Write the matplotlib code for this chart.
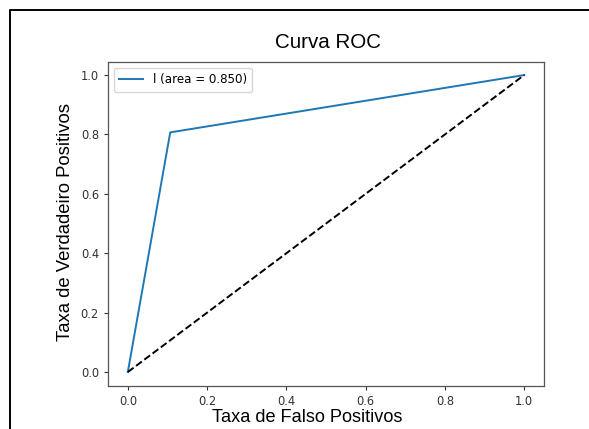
import numpy as np
import matplotlib.pyplot as plt
from matplotlib.lines import Line2D

# ROC curve points
fpr = [0.0, 0.107, 1.0]
tpr = [0.0, 0.807, 1.0]
area = 0.850
chance = [0.0, 1.0]
ticks = [0.0, 0.2, 0.4, 0.6, 0.8, 1.0]

W, H = 589, 429
fig = plt.figure(figsize=(W / 100, H / 100), dpi=100)
ax = fig.add_axes([108 / W, 1 - 386 / H, 436 / W, 324 / H])

ax.plot(fpr, tpr, color='#1f77b4', lw=1.4, label='l (area = %0.3f)' % area)
ax.plot(chance, chance, 'k--', lw=1.4)
ax.set_xlim(-0.05, 1.05)
ax.set_ylim(-0.047, 1.044)
ax.set_xticks(ticks)
ax.set_yticks(ticks)
ax.tick_params(labelsize=8.3, colors='#333333', length=3, width=0.8)
for s in ax.spines.values():
    s.set_color('#555555')
    s.set_linewidth(0.9)
ax.legend(loc='upper left', fontsize=8.6, handlelength=2.0, borderpad=0.45)

# labels sit where the screenshot had them
lab = dict(family='Liberation Sans', color='black')
fig.text(328 / W, 1 - 42 / H, 'Curva ROC', ha='center', va='center', fontsize=14.8, **lab)
fig.text(307 / W, 1 - 417 / H, 'Taxa de Falso Positivos', ha='center', va='center', fontsize=13.1, **lab)
fig.text(66 / W, 1 - 222 / H, 'Taxa de Verdadeiro Positivos', ha='center', va='center',
         rotation=90, fontsize=13.3, **lab)

# outer frame of the screenshot
fig.add_artist(Line2D([10 / W, 10 / W, 1.0], [0.0, 1 - 10 / H, 1 - 10 / H],
                      transform=fig.transFigure, color='black', lw=1.4))

fig.savefig('out.png', dpi=100)
